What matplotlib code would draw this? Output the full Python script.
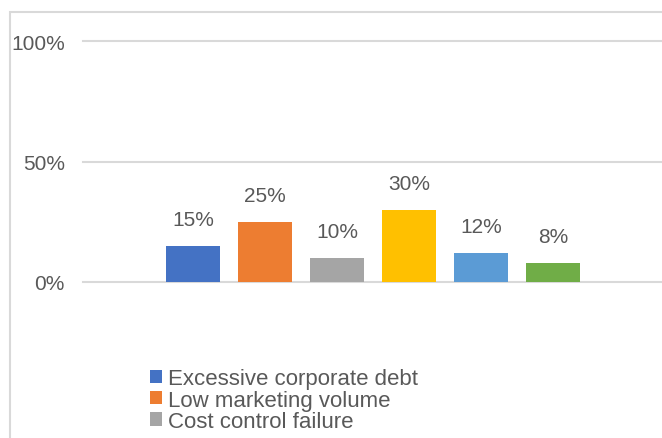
import matplotlib.pyplot as plt
from matplotlib.patches import Patch, Rectangle

# shares of each risk factor (%)
values = [15, 25, 10, 30, 12, 8]
colors = ['#4472C4', '#ED7D31', '#A5A5A5', '#FFC000', '#5B9BD5', '#70AD47']
legend_labels = ['Excessive corporate debt', 'Low marketing volume', 'Cost control failure']
yticks = [0, 50, 100]
ytick_labels = ['0%', '50%', '100%']

font = ['Liberation Sans', 'DejaVu Sans']
text_color = '#595959'
grid_color = '#D9D9D9'

W, H = 662, 439
fig = plt.figure(figsize=(W / 100, H / 100), dpi=100)
fig.patch.set_facecolor('white')

# chart area border, runs off the right and bottom edges
fig.patches.append(Rectangle((10 / W, -0.2), 1.0, (H - 13) / H + 0.2,
                             transform=fig.transFigure, fill=False,
                             edgecolor=grid_color, lw=1.5))

ax = fig.add_axes([83 / W, (H - 283) / H, 580 / W, 241 / H])
x = list(range(len(values)))
ax.bar(x, values, width=0.75, color=colors, zorder=3)
ax.set_xlim(2.5 - 580 / 144, 2.5 + 580 / 144)
ax.set_ylim(0, 100)

for yv in yticks:
    ax.axhline(yv, color=grid_color, lw=1.5, zorder=1, clip_on=False)

for xi, v in zip(x, values):
    ax.annotate('{}%'.format(v), (xi, v), xytext=(0, 12), textcoords='offset points',
                ha='center', va='bottom', fontsize=15, family=font, color=text_color)

ax.set_yticks(yticks)
ax.set_yticklabels(ytick_labels, family=font, fontsize=15, color=text_color)
ax.tick_params(axis='y', length=0, pad=13)
ax.set_xticks([])
for s in ax.spines.values():
    s.set_visible(False)

handles = [Patch(facecolor=c, edgecolor='none') for c in colors[:len(legend_labels)]]
fig.legend(handles, legend_labels, loc='upper left', bbox_to_anchor=(139 / W, 1 - 358 / H),
           frameon=False, borderpad=0, handlelength=0.55, handleheight=0.55,
           handletextpad=0.25, labelspacing=0.02, prop={'family': font, 'size': 16},
           labelcolor=text_color)

fig.savefig('out.png', dpi=100)
